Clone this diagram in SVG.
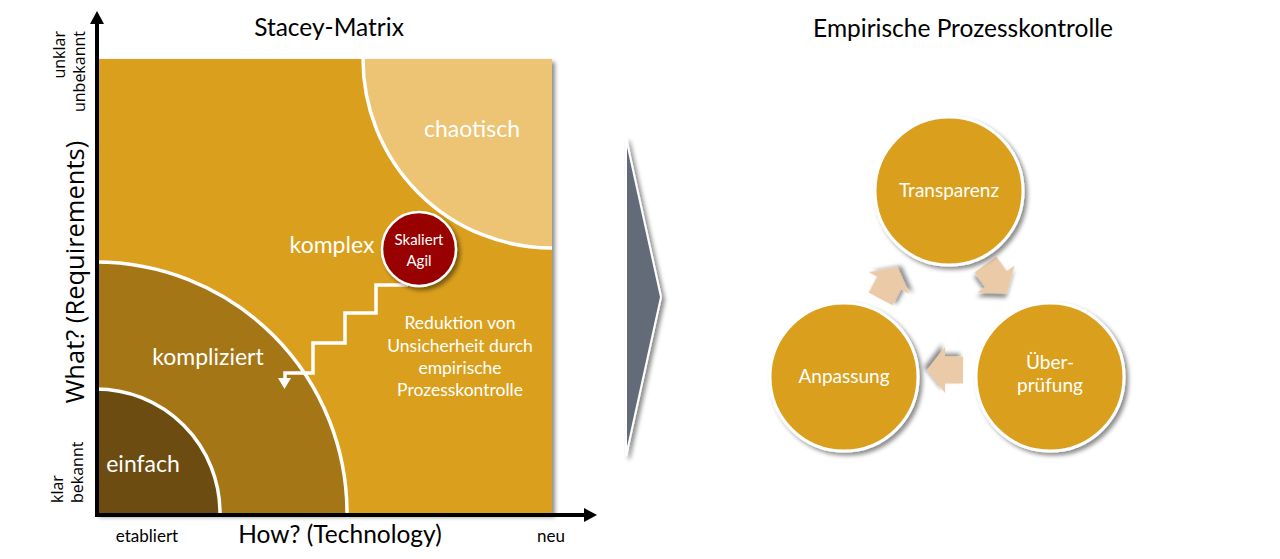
<svg xmlns="http://www.w3.org/2000/svg" width="1280" height="559" viewBox="0 0 1280 559">
<defs>
<style>
.lbl{font-family:Lato,"Open Sans",sans-serif;fill:#fff;text-anchor:middle}
.dark{font-family:Lato,"Open Sans",sans-serif;fill:#000;text-anchor:middle}
.axis{font-family:"Open Sans","Noto Sans",sans-serif;fill:#000}
.arc{fill:none;stroke:#fff;stroke-width:3.5}
.node{fill:#DA9F1E;stroke:#fff;stroke-width:3}
.cyc{fill:#EACAA7}
</style>
<filter id="sh" x="-20%" y="-20%" width="150%" height="150%">
<feDropShadow dx="3" dy="3" stdDeviation="2" flood-color="#000" flood-opacity="0.45"/>
</filter>
<polygon id="blk" points="-18,-13.5 0,-13.5 0,-23 18,0 0,23 0,13.5 -18,13.5"/>
</defs>
<rect width="1280" height="559" fill="#fff"/>

<g id="stacey-matrix">
<rect x="96" y="59" width="456" height="455" fill="#DA9F1E" filter="url(#sh)"/>
<g id="chaotisch">
<path d="M363,59 A189,189 0 0 0 552,248 L552,59 Z" fill="#ECC473"/>
<path class="arc" d="M363,59 A189,189 0 0 0 552,248"/>
<text class="lbl" x="472" y="137" font-size="23">chaotisch</text>
</g>
<g id="kompliziert">
<path d="M96,262 A251,251 0 0 1 347,513 L96,513 Z" fill="#A47615"/>
<path class="arc" d="M96,262 A251,251 0 0 1 347,513"/>
<text class="lbl" x="208" y="365" font-size="23">kompliziert</text>
</g>
<g id="einfach">
<path d="M96,389 A124,124 0 0 1 220,513 L96,513 Z" fill="#6C4C10"/>
<path class="arc" d="M96,389 A124,124 0 0 1 220,513"/>
<text class="lbl" x="143" y="472" font-size="23">einfach</text>
</g>
<g id="komplex">
<text class="lbl" x="332" y="253" font-size="23">komplex</text>
</g>
<g id="reduktion">
<text class="lbl" font-size="17.5"><tspan x="460" y="329">Reduktion von</tspan><tspan x="460" y="352">Unsicherheit durch</tspan><tspan x="460" y="374">empirische</tspan><tspan x="460" y="396">Prozesskontrolle</tspan></text>
</g>
</g>

<g id="connectors">
<polyline points="408,285 376,285 376,313 345,313 345,343 313,343 313,373 285,373 285,380" fill="none" stroke="#fff" stroke-width="3.5"/>
<polygon points="278,378 291,378 284.5,389" fill="#fff"/>
<line x1="97" y1="516" x2="97" y2="22" stroke="#000" stroke-width="4"/>
<polygon points="90,24 104,24 97,11" fill="#000"/>
<line x1="95" y1="515" x2="586" y2="515" stroke="#000" stroke-width="4"/>
<polygon points="584,508 584,522 597,515" fill="#000"/>
</g>

<g id="skaliert-agil">
<circle cx="419" cy="249" r="37" fill="#990000" stroke="#fff" stroke-width="2.5" filter="url(#sh)"/>
<text class="lbl" font-size="15"><tspan x="419" y="245">Skaliert</tspan><tspan x="419" y="266">Agil</tspan></text>
</g>

<g id="axis-labels">
<text class="dark" x="329" y="36" font-size="24.5">Stacey-Matrix</text>
<text class="dark" x="340" y="543" font-size="24.5">How? (Technology)</text>
<text class="dark" x="147" y="542" font-size="17">etabliert</text>
<text class="dark" x="551" y="542" font-size="17">neu</text>
<text class="axis" transform="translate(84,272) rotate(-90)" text-anchor="middle" font-size="25.5">What? (Requirements)</text>
<text class="axis" transform="translate(65,31) rotate(-90)" text-anchor="end" font-size="16">unklar</text>
<text class="axis" transform="translate(85,31) rotate(-90)" text-anchor="end" font-size="16">unbekannt</text>
<text class="axis" transform="translate(63,503) rotate(-90)" text-anchor="start" font-size="16">klar</text>
<text class="axis" transform="translate(83,503) rotate(-90)" text-anchor="start" font-size="16">bekannt</text>
</g>

<g id="chevron">
<polygon points="626,138 661,297 626,456" fill="#646B78" stroke="#fff" stroke-width="2" filter="url(#sh)"/>
</g>

<g id="empirische-prozesskontrolle">
<text class="dark" x="963" y="37" font-size="24.5">Empirische Prozesskontrolle</text>
</g>

<g id="connectors-cycle">
<use href="#blk" class="cyc" transform="translate(889,283) rotate(-62)" filter="url(#sh)"/>
<use href="#blk" class="cyc" transform="translate(996,279) rotate(54)" filter="url(#sh)"/>
<use href="#blk" class="cyc" transform="translate(945,370) rotate(180)" filter="url(#sh)"/>
</g>

<g id="transparenz">
<circle class="node" cx="949" cy="191" r="74" filter="url(#sh)"/>
<text class="lbl" x="949" y="197" font-size="19">Transparenz</text>
</g>
<g id="ueberpruefung">
<circle class="node" cx="1050" cy="377" r="74" filter="url(#sh)"/>
<text class="lbl" font-size="19"><tspan x="1050" y="369">Über-</tspan><tspan x="1050" y="392">prüfung</tspan></text>
</g>
<g id="anpassung">
<circle class="node" cx="844" cy="377" r="74" filter="url(#sh)"/>
<text class="lbl" x="844" y="383" font-size="19">Anpassung</text>
</g>
</svg>
